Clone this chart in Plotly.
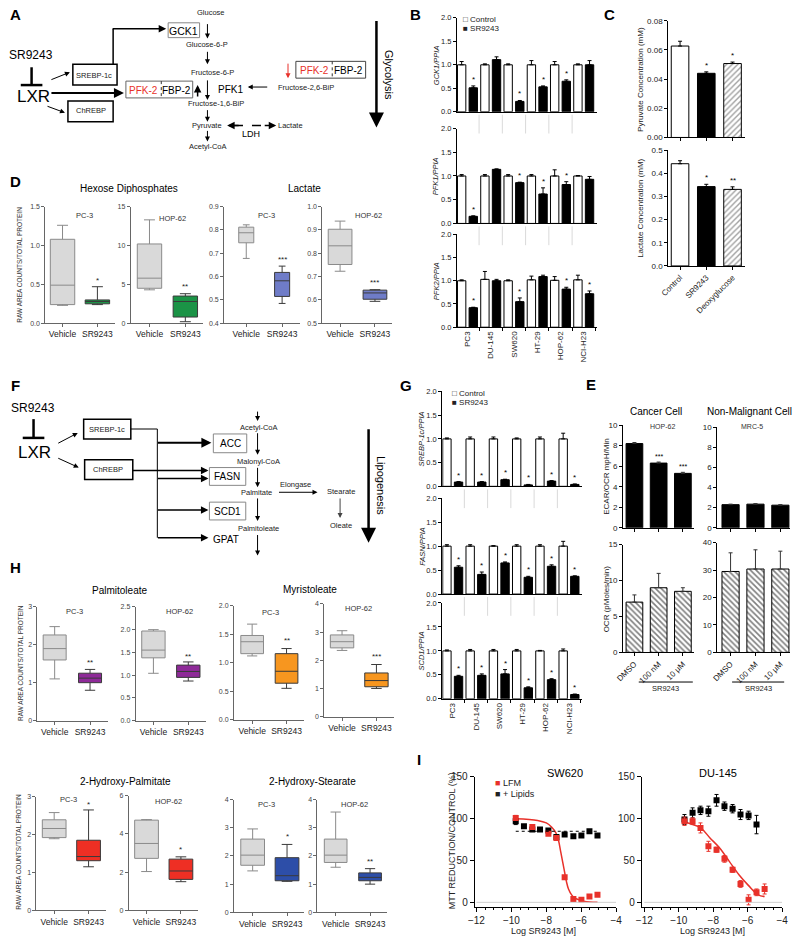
import plotly.graph_objects as go

W, H = 800, 944
FONT = "Liberation Sans, Arial, sans-serif"
RED = "#e8312a"

# ---------------- data ----------------
cell_lines = ["PC3", "DU-145", "SW620", "HT-29", "HOP-62", "NCI-H23"]

gck1_ctrl = [1.00, 1.00, 1.00, 1.00, 1.00, 1.00]
gck1_ctrl_err = [0.07, 0.02, 0.02, 0.09, 0.07, 0.02]
gck1_sr = [0.51, 1.11, 0.22, 0.53, 0.65, 1.00]
gck1_sr_err = [0.04, 0.06, 0.02, 0.02, 0.03, 0.09]
gck1_sig = ["*", "", "*", "*", "*", ""]

pfk1_ctrl = [1.00, 1.00, 1.00, 1.00, 1.00, 1.00]
pfk1_ctrl_err = [0.03, 0.03, 0.03, 0.03, 0.13, 0.01]
pfk1_sr = [0.15, 1.14, 0.86, 0.62, 0.82, 0.93]
pfk1_sr_err = [0.01, 0.01, 0.01, 0.13, 0.06, 0.06]
pfk1_sig = ["*", "", "*", "*", "*", ""]

pfk2_ctrl = [1.00, 1.03, 1.00, 1.02, 1.01, 1.02]
pfk2_ctrl_err = [0.02, 0.17, 0.02, 0.08, 0.08, 0.10]
pfk2_sr = [0.42, 1.00, 0.55, 1.09, 0.82, 0.72]
pfk2_sr_err = [0.01, 0.03, 0.08, 0.03, 0.04, 0.06]
pfk2_sig = ["*", "", "*", "", "*", "*"]

srebp_ctrl = [1.00, 1.00, 1.00, 1.00, 1.00, 1.00]
srebp_ctrl_err = [0.02, 0.04, 0.04, 0.02, 0.04, 0.12]
srebp_sr = [0.09, 0.09, 0.14, 0.03, 0.11, 0.04]
srebp_sr_err = [0.01, 0.01, 0.01, 0.01, 0.01, 0.01]
srebp_sig = ["*", "*", "*", "*", "*", "*"]

fasn_ctrl = [1.00, 1.00, 1.00, 1.00, 1.00, 1.00]
fasn_ctrl_err = [0.03, 0.03, 0.01, 0.03, 0.03, 0.10]
fasn_sr = [0.56, 0.41, 0.65, 0.35, 0.58, 0.37]
fasn_sr_err = [0.03, 0.05, 0.02, 0.02, 0.03, 0.01]
fasn_sig = ["*", "*", "*", "*", "*", "*"]

scd1_ctrl = [1.00, 1.00, 1.00, 1.00, 1.00, 1.00]
scd1_ctrl_err = [0.02, 0.03, 0.03, 0.03, 0.01, 0.04]
scd1_sr = [0.47, 0.49, 0.52, 0.23, 0.40, 0.09]
scd1_sr_err = [0.02, 0.03, 0.09, 0.02, 0.02, 0.01]
scd1_sig = ["*", "*", "*", "*", "*", "*"]

c_conditions = ["Control", "SR9243", "Deoxyglucose"]
pyruvate_mM = [0.0627, 0.0440, 0.0507]
pyruvate_err = [0.0033, 0.0010, 0.0010]
pyruvate_sig = ["", "*", "*"]
lactate_mM = [0.442, 0.343, 0.331]
lactate_err = [0.013, 0.010, 0.011]
lactate_sig = ["", "*", "**"]

e_treatments = ["DMSO", "100 nM", "10 μM"]
ecar_hop62 = [8.2, 6.3, 5.3]
ecar_hop62_err = [0.1, 0.1, 0.1]
ecar_hop62_sig = ["", "***", "***"]
ecar_mrc5 = [2.30, 2.35, 2.25]
ecar_mrc5_err = [0.05, 0.05, 0.05]
ocr_hop62 = [7.0, 9.0, 8.5]
ocr_hop62_err = [1.0, 2.0, 0.5]
ocr_mrc5 = [29.5, 30.4, 30.4]
ocr_mrc5_err = [6.8, 7.0, 6.5]

box_groups = ["Vehicle", "SR9243"]
# [lower whisker, q1, median, q3, upper whisker]
hexose_pc3_vehicle = [0.23, 0.24, 0.49, 1.08, 1.26]
hexose_pc3_sr9243 = [0.24, 0.25, 0.28, 0.30, 0.47]
hexose_hop62_vehicle = [4.3, 4.5, 5.8, 10.2, 13.3]
hexose_hop62_sr9243 = [0.2, 0.8, 2.8, 3.5, 3.8]
lactate_pc3_vehicle = [0.678, 0.745, 0.788, 0.812, 0.822]
lactate_pc3_sr9243 = [0.485, 0.515, 0.582, 0.618, 0.645]
lactate_hop62_vehicle = [0.723, 0.752, 0.832, 0.903, 0.938]
lactate_hop62_sr9243 = [0.594, 0.603, 0.630, 0.642, 0.644]

palmitoleate_pc3_vehicle = [1.10, 1.60, 1.90, 2.26, 2.48]
palmitoleate_pc3_sr9243 = [0.80, 1.00, 1.12, 1.25, 1.35]
palmitoleate_hop62_vehicle = [1.04, 1.38, 1.55, 1.97, 2.00]
palmitoleate_hop62_sr9243 = [0.87, 0.95, 1.08, 1.22, 1.29]
myristoleate_pc3_vehicle = [1.12, 1.16, 1.37, 1.48, 1.68]
myristoleate_pc3_sr9243 = [0.55, 0.64, 0.85, 1.16, 1.25]
myristoleate_hop62_vehicle = [2.35, 2.44, 2.66, 2.90, 3.05]
myristoleate_hop62_sr9243 = [1.00, 1.06, 1.28, 1.55, 1.85]
hpalm_pc3_vehicle = [1.89, 1.92, 2.16, 2.39, 2.58]
hpalm_pc3_sr9243 = [1.15, 1.31, 1.42, 1.85, 2.65]
hpalm_hop62_vehicle = [2.03, 2.72, 3.50, 4.72, 4.75]
hpalm_hop62_sr9243 = [1.50, 1.62, 2.06, 2.68, 2.80]
hstear_pc3_vehicle = [1.47, 1.67, 2.03, 2.60, 2.96]
hstear_pc3_sr9243 = [1.10, 1.12, 1.30, 1.94, 2.41]
hstear_hop62_vehicle = [1.60, 1.77, 2.03, 2.60, 3.56]
hstear_hop62_sr9243 = [1.00, 1.12, 1.24, 1.40, 1.55]

sw620_lfm_x = [-9.75, -8.80, -7.88, -7.42, -6.95, -6.45, -5.99, -5.53, -5.07]
sw620_lfm_y = [101, 90, 82, 77, 30, 4, 3, 7, 9]
sw620_lfm_err = [3, 2, 2, 2, 2, 1, 1, 1, 1]
sw620_lip_x = [-9.75, -9.28, -8.80, -8.36, -7.88, -7.42, -6.95, -6.45, -5.99, -5.53, -5.07]
sw620_lip_y = [97, 91, 87, 87, 86, 78, 81, 79, 80, 85, 80]
sw620_lip_err = [4, 2, 2, 2, 2, 2, 2, 2, 2, 2, 2]
sw620_fit_x = [-9.75, -8.5, -8.0, -7.7, -7.45, -7.3, -7.17, -7.05, -6.95, -6.85, -6.73, -6.55, -6.36, -6.1, -5.8, -5.07]
sw620_fit_y = [100, 98, 95, 90, 83, 74, 60, 47, 36, 25, 16, 9, 5, 3, 1, 0]
sw620_lip_plateau = 85

du145_x = [-9.67, -9.20, -8.74, -8.28, -7.81, -7.35, -6.88, -6.42, -5.95, -5.49, -5.02]
du145_lip_y = [99, 107, 110, 109, 122, 115, 112, 105, 104, 93]
du145_lip_err = [6, 6, 5, 6, 7, 5, 5, 6, 5, 11]
du145_lfm_y = [97, 97, 89, 67, 63, 52, 39, 22, 3, 12, 16]
du145_lfm_err = [5, 4, 6, 6, 3, 4, 3, 4, 6, 4, 6]
du145_fit_x = [-9.67, -8.74, -8.19, -7.63, -7.07, -6.51, -5.95, -5.40, -5.02]
du145_fit_y = [96, 89, 77, 65, 49, 33, 20, 9, 7]

# ---------------- helpers ----------------
fig = go.Figure()
_n = [0]


def new_axes(x0, x1, ytop, ybot, xa, ya):
    _n[0] += 1
    n = _n[0]
    sx = "" if n == 1 else str(n)
    xa = dict(xa)
    ya = dict(ya)
    xa.update(domain=[x0 / W, x1 / W], anchor="y" + sx)
    ya.update(domain=[1 - ybot / H, 1 - ytop / H], anchor="x" + sx)
    fig.update_layout({"xaxis" + sx: xa, "yaxis" + sx: ya})
    return "x" + sx, "y" + sx


def axstyle(color="black", size=7, **kw):
    d = dict(showline=True, linecolor=color, linewidth=1, ticks="outside", ticklen=3,
             tickwidth=1, tickcolor=color, showgrid=False, zeroline=False,
             tickfont=dict(size=size, color="#222", family=FONT), fixedrange=True)
    d.update(kw)
    return d


def txt(x, y, s, size=8, color="black", angle=0, xanchor="center", yanchor="middle"):
    fig.add_annotation(x=x / W, y=1 - y / H, xref="paper", yref="paper", text=s,
                       showarrow=False, textangle=angle, xanchor=xanchor, yanchor=yanchor,
                       font=dict(size=size, color=color, family=FONT))


def arrow(x0, y0, x1, y1, width=1, color="black", head=2, size=1.0):
    fig.add_annotation(x=x1 / W, y=1 - y1 / H, xref="paper", yref="paper",
                       ax=x0 - x1, ay=y0 - y1, axref="pixel", ayref="pixel", text="",
                       showarrow=True, arrowhead=head, arrowsize=size, arrowwidth=width,
                       arrowcolor=color, standoff=0, startstandoff=0)


def line(x0, y0, x1, y1, width=1, color="black", dash=None):
    fig.add_shape(type="line", xref="paper", yref="paper", x0=x0 / W, y0=1 - y0 / H,
                  x1=x1 / W, y1=1 - y1 / H, line=dict(color=color, width=width, dash=dash))


def rect(x0, y0, x1, y1, color="black", width=1):
    fig.add_shape(type="rect", xref="paper", yref="paper", x0=x0 / W, y0=1 - y1 / H,
                  x1=x1 / W, y1=1 - y0 / H, line=dict(color=color, width=width),
                  fillcolor="rgba(0,0,0,0)")


def letter(x, y, s):
    txt(x, y, "<b>" + s + "</b>", size=15)


def errbar(err, color="black"):
    return dict(type="data", array=err, arrayminus=[0] * len(err), symmetric=False,
                color=color, thickness=1, width=2)


# ---------------- Panel A (diagram) ----------------
letter(8, 9, "A")
mt = 7.5
txt(207, 7, "Glucose", mt, "#222")
rect(163, 17, 195, 32, "#888", 1)
txt(179, 25, "GCK1", 10.5)
arrow(203, 17, 203, 33)
txt(203, 39, "Glucose-6-P", mt, "#222")
arrow(203, 45, 203, 59)
txt(208, 67, "Fructose-6-P", mt, "#222")
arrow(203, 74, 203, 95)
arrow(193, 93, 193, 80, width=1.5)
txt(226, 84, "PFK1", 10)
txt(303, 82, "Fructose-2,6-BiP", mt, "#222")
arrow(265, 82, 244, 82)
rect(120, 76, 188, 93, "#666", 1)
line(156, 76, 156, 93, 1, "#333", "dot")
txt(138, 85, "PFK-2", 10, RED)
txt(172, 85, "FBP-2", 10)
rect(293, 56, 364, 73, "#444", 1)
line(330, 56, 330, 73, 1, "#333", "dot")
txt(312, 65, "PFK-2", 10, RED)
txt(347, 65, "FBP-2", 10)
arrow(285, 57, 285, 73, color=RED)
txt(212, 99, "Fructose-1,6-BiP", mt, "#222")
arrow(203, 104, 203, 117)
txt(203, 121, "Pyruvate", mt, "#222")
txt(288, 121, "Lactate", mt, "#222")
line(230, 121, 266, 121, 1.5, "black", "dash")
arrow(236, 121, 223, 121, width=1.5)
arrow(260, 121, 273, 121, width=1.5)
txt(247, 130, "LDH", 9)
arrow(203, 125, 203, 137)
txt(204, 142, "Acetyl-CoA", mt, "#222")
txt(23, 50, "SR9243", 12)
line(24, 62, 24, 80, 2.5)
line(13, 80, 35, 80, 2.5)
txt(26, 92, "LXR", 17)
rect(66, 59, 111, 80, "black", 1.5)
txt(88, 70, "SREBP-1c", 7.5, "#222")
rect(61, 96, 107, 117, "black", 1.5)
txt(84, 106, "ChREBP", 7.5, "#222")
arrow(43, 75, 63, 67)
arrow(39, 101, 58, 108)
arrow(44, 88, 118, 88, width=2)
line(107, 59, 107, 23, 1.5)
arrow(106, 23, 161, 23, width=1.5)
arrow(375, 15, 375, 123, width=2.5, size=1.2)
txt(388, 70, "Glycolysis", 11, angle=90)

# ---------------- Panel F (diagram) ----------------
letter(8, 384, "F")
txt(25, 407, "SR9243", 12)
line(26, 418, 26, 437, 2.5)
line(15, 437, 37, 437, 2.5)
txt(27, 452, "LXR", 17)
rect(77, 418, 125, 438, "black", 1.5)
txt(101, 428, "SREBP-1c", 7.5, "#222")
rect(78, 459, 127, 479, "black", 1.5)
txt(102, 469, "ChREBP", 7.5, "#222")
arrow(50, 443, 71, 432)
arrow(50, 457, 72, 467)
line(125, 428, 152, 428, 1)
line(152, 428, 152, 538, 1)
arrow(152, 442, 207, 442, width=2)
arrow(127, 470, 204, 470, width=1.5)
arrow(152, 478, 204, 478, width=1.5)
arrow(152, 510, 204, 510, width=1.5)
arrow(152, 538, 204, 538, width=1.5)
rect(209, 433, 243, 452, "#888", 1)
txt(226, 443, "ACC", 10)
rect(205, 467, 242, 485, "#888", 1)
txt(223, 476, "FASN", 10)
rect(205, 502, 242, 520, "#888", 1)
txt(223, 511, "SCD1", 10)
txt(222, 540, "GPAT", 10, xanchor="center")
arrow(254, 409, 254, 420)
txt(255, 426, "Acetyl-CoA", mt, "#222")
arrow(254, 431, 254, 454)
txt(255, 461, "Malonyl-CoA", mt, "#222")
arrow(254, 466, 254, 487)
txt(253, 492, "Palmitate", mt, "#222")
arrow(254, 497, 254, 521)
txt(255, 529, "Palmitoleate", mt, "#222")
arrow(254, 534, 254, 556)
txt(293, 484, "Elongase", mt, "#222")
arrow(275, 492, 315, 492)
txt(339, 491, "Stearate", mt, "#222")
arrow(338, 497, 338, 518, color="#444")
txt(339, 526, "Oleate", mt, "#222")
arrow(367, 428, 367, 543, width=2.5, size=1.2)
txt(379, 485, "Lipogenesis", 11, angle=90)


# ---------------- Panels B and G (grouped bars) ----------------
def bgroup(x0, x1, ytop, ybot, ctrl, ctrl_err, sr, sr_err, sig, ylab, ylab_x, bottom):
    ctrl_pos = [2 * i for i in range(len(ctrl))]
    sr_pos = [2 * i + 1 for i in range(len(sr))]
    if bottom:
        xa = axstyle(size=8, range=[-0.4, 11.6], tickmode="array",
                     tickvals=[2 * i + 0.5 for i in range(len(cell_lines))],
                     ticktext=cell_lines, tickangle=-90, ticks="",
                     minor=dict(ticks="outside", tickmode="linear", tick0=1.5, dtick=2,
                                ticklen=3, tickcolor="black"))
    else:
        xa = axstyle(range=[-0.4, 11.6], showticklabels=False, ticks="")
    ya = axstyle(size=7.5, range=[0, 2.0], tickmode="linear", tick0=0, dtick=0.5, tickformat=".1f")
    xr, yr = new_axes(x0, x1, ytop, ybot, xa, ya)
    fig.add_trace(go.Bar(x=ctrl_pos, y=ctrl, width=0.72, xaxis=xr, yaxis=yr,
                         marker=dict(color="white", line=dict(color="black", width=1)),
                         error_y=errbar(ctrl_err)))
    fig.add_trace(go.Bar(x=sr_pos, y=sr, width=0.72, xaxis=xr, yaxis=yr,
                         marker=dict(color="black", line=dict(color="black", width=1)),
                         error_y=errbar(sr_err)))
    for i, s in enumerate(sig):
        if s:
            fig.add_annotation(x=sr_pos[i], y=sr[i] + sr_err[i], xref=xr, yref=yr, text=s,
                               showarrow=False, yanchor="bottom", yshift=0,
                               font=dict(size=8, family=FONT))
    txt(ylab_x, (ytop + ybot) / 2, "<i>" + ylab + "</i>", 7.5, "#222", angle=-90)
    if not bottom:
        for b in [1.5, 3.5, 5.5, 7.5, 9.5]:
            fig.add_shape(type="line", xref=xr, yref="paper", x0=b, x1=b,
                          y0=1 - (ybot + 3) / H, y1=1 - (ybot + 22) / H,
                          line=dict(color="#cfcfcf", width=0.8))
    return xr, yr


letter(415, 9, "B")
txt(461, 14, "□ Control", 8, "#222", xanchor="left")
txt(461, 23, "■ SR9243", 8, "#222", xanchor="left")
bgroup(457, 599, 12, 107, gck1_ctrl, gck1_ctrl_err, gck1_sr, gck1_sr_err, gck1_sig, "GCK1/PPIA", 436, False)
bgroup(457, 599, 124, 220, pfk1_ctrl, pfk1_ctrl_err, pfk1_sr, pfk1_sr_err, pfk1_sig, "PFK1/PPIA", 436, False)
bgroup(457, 599, 231, 325, pfk2_ctrl, pfk2_ctrl_err, pfk2_sr, pfk2_sr_err, pfk2_sig, "PFK2/PPIA", 436, True)

letter(405, 384, "G")
txt(450, 392, "□ Control", 8, "#222", xanchor="left")
txt(450, 401, "■ SR9243", 8, "#222", xanchor="left")
bgroup(442, 584, 390, 486, srebp_ctrl, srebp_ctrl_err, srebp_sr, srebp_sr_err, srebp_sig, "SREBP-1c/PPIA", 421, False)
bgroup(442, 584, 498, 595, fasn_ctrl, fasn_ctrl_err, fasn_sr, fasn_sr_err, fasn_sig, "FASN/PPIA", 421, False)
bgroup(442, 584, 604, 701, scd1_ctrl, scd1_ctrl_err, scd1_sr, scd1_sr_err, scd1_sig, "SCD1/PPIA", 421, True)


# ---------------- Panel C ----------------
def cpanel(ytop, ybot, vals, err, sig, yrange, dtick, tfmt, ylab, bottom):
    if bottom:
        xa = axstyle(size=8, range=[-0.45, 2.47], tickvals=[0, 1, 2], ticktext=c_conditions,
                     tickangle=-45)
    else:
        xa = axstyle(range=[-0.45, 2.47], tickvals=[0, 1, 2], showticklabels=False)
    ya = axstyle(size=8, range=yrange, tickmode="linear", tick0=0, dtick=dtick, tickformat=tfmt)
    xr, yr = new_axes(672, 750, ytop, ybot, xa, ya)
    fig.add_trace(go.Bar(x=[0, 1, 2], y=vals, width=0.67, xaxis=xr, yaxis=yr,
                         marker=dict(color=["white", "black", "white"],
                                     line=dict(color="black", width=1),
                                     pattern=dict(shape=["", "", "/"], fgcolor="black",
                                                  bgcolor="white", size=4, solidity=0.35)),
                         error_y=errbar(err)))
    for i, s in enumerate(sig):
        if s:
            fig.add_annotation(x=i, y=vals[i] + err[i], xref=xr, yref=yr, text=s,
                               showarrow=False, yanchor="bottom", font=dict(size=8, family=FONT))
    txt(643, (ytop + ybot) / 2, ylab, 8, "#222", angle=-90)


letter(612, 9, "C")
cpanel(15, 133, pyruvate_mM, pyruvate_err, pyruvate_sig, [0, 0.08], 0.02, ".2f",
       "Pyruvate Concentration (mM)", False)
cpanel(146, 263, lactate_mM, lactate_err, lactate_sig, [0, 0.5], 0.1, ".1f",
       "Lactate Concentration (mM)", True)


# ---------------- Panel E ----------------
def epanel(x0, x1, left, ytop, ybot, vals, err, sig, yrange, dtick, hatched, bottom):
    if bottom:
        xa = axstyle(size=8, range=[left, left + 2.92], tickvals=[0, 1, 2], ticktext=e_treatments,
                     tickangle=-45)
    else:
        xa = axstyle(range=[left, left + 2.92], tickvals=[0, 1, 2], showticklabels=False)
    ya = axstyle(size=8, range=yrange, tickmode="linear", tick0=0, dtick=dtick)
    xr, yr = new_axes(x0, x1, ytop, ybot, xa, ya)
    if hatched:
        mk = dict(color="white", line=dict(color="black", width=1),
                  pattern=dict(shape="\\", fgcolor="black", bgcolor="white", size=4, solidity=0.4))
    else:
        mk = dict(color="black", line=dict(color="black", width=1))
    fig.add_trace(go.Bar(x=[0, 1, 2], y=vals, width=0.69, xaxis=xr, yaxis=yr, marker=mk,
                         error_y=errbar(err, "#333")))
    for i, s in enumerate(sig):
        if s:
            fig.add_annotation(x=i, y=vals[i] + err[i], xref=xr, yref=yr, text=s,
                               showarrow=False, yanchor="bottom", font=dict(size=7, family=FONT))


letter(593, 383, "E")
txt(660, 410, "Cancer Cell", 10)
txt(755, 410, "Non-Malignant Cell", 10)
txt(666, 425, "HOP-62", 7, "#333")
txt(757, 425, "MRC-5", 7, "#333")
epanel(626, 698, -0.47, 424, 528, ecar_hop62, ecar_hop62_err, ecar_hop62_sig, [0, 10], 2, False, False)
epanel(722, 796, -0.53, 426, 528, ecar_mrc5, ecar_mrc5_err, ["", "", ""], [0, 10], 2, False, False)
epanel(626, 698, -0.47, 545, 654, ocr_hop62, ocr_hop62_err, ["", "", ""], [0, 15], 5, True, True)
epanel(722, 796, -0.53, 543, 654, ocr_mrc5, ocr_mrc5_err, ["", "", ""], [0, 40], 10, True, True)
txt(609, 476, "ECAR/OCR mpH/Min", 8, "#222", angle=-90)
txt(609, 600, "OCR (pMoles/min)", 8, "#222", angle=-90)
line(642, 684, 697, 684, 1)
txt(669, 691, "SR9243", 7.5, "#222")
line(737, 684, 790, 684, 1)
txt(764, 691, "SR9243", 7.5, "#222")


# ---------------- Box-plot panels D and H ----------------
def bpanel(ax_px, c0, c1, ytop, ybot, yrange, tickvals, ticktext, veh, sr, color, sig, sig_y,
           subtitle, sub_xy, boxw):
    s = c1 - c0
    left = -(c0 - ax_px) / s
    x1 = c1 + 0.5 * s
    xa = axstyle("#666", 8.5, type="category", categoryorder="array", categoryarray=box_groups,
                 range=[left, 1.5])
    ya = axstyle("#666", 7, range=yrange, tickvals=tickvals, ticktext=ticktext)
    ya["tickfont"] = dict(size=7, color="#444", family=FONT)
    xr, yr = new_axes(ax_px, x1, ytop, ybot, xa, ya)
    for grp, st, fc, lc in [(box_groups[0], veh, "#d9d9d9", "#8a8a8a"),
                            (box_groups[1], sr, color, "#3a3a3a")]:
        fig.add_trace(go.Box(x=[grp], lowerfence=[st[0]], q1=[st[1]], median=[st[2]],
                             q3=[st[3]], upperfence=[st[4]], width=boxw, whiskerwidth=0.45,
                             fillcolor=fc, line=dict(color=lc, width=1), boxpoints=False,
                             xaxis=xr, yaxis=yr))
    fig.add_annotation(x=box_groups[1], y=sig_y, xref=xr, yref=yr, text=sig, showarrow=False,
                       font=dict(size=8, family=FONT, color="#222"))
    txt(sub_xy[0], sub_xy[1], subtitle, 7.5, "#333")


GREEN = "#1b9346"
PERI = "#6f7cc8"
PURPLE = "#8e2a98"
ORANGE = "#f7961f"
RED2 = "#ee2f24"
BLUE = "#2d4ea8"

letter(8, 178, "D")
txt(123, 185, "Hexose Diphosphates", 10)
txt(302, 185, "Lactate", 10)
txt(12, 262, "RAW AREA COUNTS/TOTAL PROTEIN", 6.5, "#333", angle=-90)
bpanel(38, 55.5, 91, 203, 321, [0, 1.5], [0, 0.5, 1.0, 1.5], ["0.0", "0.5", "1.0", "1.5"],
       hexose_pc3_vehicle, hexose_pc3_sr9243, GREEN, "*", 0.55, "PC-3", (78, 212), 0.7)
bpanel(125, 144, 180.5, 203, 321, [0, 15], [0, 5, 10, 15], ["0", "5", "10", "15"],
       hexose_hop62_vehicle, hexose_hop62_sr9243, GREEN, "**", 4.7, "HOP-62", (167, 215), 0.68)
bpanel(220, 242.5, 279, 203, 321, [0.4, 0.9], [0.4, 0.5, 0.6, 0.7, 0.8, 0.9],
       ["0.4", "0.5", "0.6", "0.7", "0.8", "0.9"],
       lactate_pc3_vehicle, lactate_pc3_sr9243, PERI, "***", 0.675, "PC-3", (263, 212), 0.42)
bpanel(320, 338, 373.5, 203, 321, [0.5, 1.0], [0.5, 0.6, 0.7, 0.8, 0.9, 1.0],
       ["0.5", "0.6", "0.7", "0.8", "0.9", "1.0"],
       lactate_hop62_vehicle, lactate_hop62_sr9243, PERI, "***", 0.675, "HOP-62", (367, 212), 0.68)

letter(8, 568, "H")
txt(113, 591, "Palmitoleate", 10)
txt(307, 590, "Myristoleate", 10)
txt(12, 665, "RAW AREA COUNTS/TOTAL PROTEIN", 6.5, "#333", angle=-90)
bpanel(30, 47.5, 83.5, 608, 723, [0, 3], [0, 1, 2, 3], ["0", "1", "2", "3"],
       palmitoleate_pc3_vehicle, palmitoleate_pc3_sr9243, PURPLE, "**", 1.52, "PC-3", (68, 613), 0.65)
bpanel(130, 148, 183.5, 608, 723, [0, 2.5], [0, 0.5, 1.0, 1.5, 2.0, 2.5],
       ["0.0", "0.5", "1.0", "1.5", "2.0", "2.5"],
       palmitoleate_hop62_vehicle, palmitoleate_hop62_sr9243, PURPLE, "**", 1.40, "HOP-62", (175, 613), 0.67)
bpanel(230, 248.5, 283.5, 607, 722, [0, 2.0], [0, 0.5, 1.0, 1.5, 2.0],
       ["0.0", "0.5", "1.0", "1.5", "2.0"],
       myristoleate_pc3_vehicle, myristoleate_pc3_sr9243, ORANGE, "**", 1.40, "PC-3", (267, 614), 0.66)
bpanel(322, 340, 375, 605, 719, [0, 4], [0, 1, 2, 3, 4], ["0", "1", "2", "3", "4"],
       myristoleate_hop62_vehicle, myristoleate_hop62_sr9243, ORANGE, "***", 2.15, "HOP-62", (357, 610), 0.68)

txt(120, 785, "2-Hydroxy-Palmitate", 10)
txt(310, 785, "2-Hydroxy-Stearate", 10)
txt(10, 856, "RAW AREA COUNTS/TOTAL PROTEIN", 6.5, "#333", angle=-90)
bpanel(29, 47, 82, 800, 915, [0, 3], [0, 1, 2, 3], ["0", "1", "2", "3"],
       hpalm_pc3_vehicle, hpalm_pc3_sr9243, RED2, "*", 2.80, "PC-3", (62, 803), 0.69)
bpanel(123, 141, 176, 799, 915, [0, 6], [0, 2, 4, 6], ["0", "2", "4", "6"],
       hpalm_hop62_vehicle, hpalm_hop62_sr9243, RED2, "*", 3.20, "HOP-62", (163, 805), 0.69)
bpanel(230, 249, 284, 803, 917, [0, 4], [0, 1, 2, 3, 4], ["0", "1", "2", "3", "4"],
       hstear_pc3_vehicle, hstear_pc3_sr9243, BLUE, "*", 2.70, "PC-3", (263, 808), 0.69)
bpanel(315, 333.5, 368.5, 803, 917, [0, 4], [0, 1, 2, 3, 4], ["0", "1", "2", "3", "4"],
       hstear_hop62_vehicle, hstear_hop62_sr9243, BLUE, "**", 1.80, "HOP-62", (353, 808), 0.66)


# ---------------- Panel I (dose response) ----------------
def ipanel(x0, x1, xleft, lip_x, lip_y, lip_err, lfm_x, lfm_y, lfm_err, fit_x, fit_y):
    xa = axstyle(size=10, range=[xleft, -4], tickvals=[-12, -10, -8, -6, -4], ticklen=4,
                 minor=dict(ticks="outside", tickmode="linear", tick0=-12, dtick=0.5,
                            ticklen=2, tickcolor="black"))
    ya = axstyle(size=10, range=[-6, 150], tickvals=[0, 50, 100, 150], ticklen=4)
    xr, yr = new_axes(x0, x1, 780, 912, xa, ya)
    fig.add_shape(type="line", xref=xr, yref=yr, x0=-12, x1=-4, y0=0, y1=0,
                  line=dict(color="#d0d0d0", width=1))
    fig.add_trace(go.Scatter(x=fit_x, y=fit_y, mode="lines", xaxis=xr, yaxis=yr,
                             line=dict(color=RED, width=1.5, shape="spline")))
    fig.add_trace(go.Scatter(x=lip_x, y=lip_y, mode="markers", xaxis=xr, yaxis=yr,
                             marker=dict(symbol="square", size=6, color="black"),
                             error_y=dict(type="data", array=lip_err, color="black",
                                          thickness=1, width=2)))
    fig.add_trace(go.Scatter(x=lfm_x, y=lfm_y, mode="markers", xaxis=xr, yaxis=yr,
                             marker=dict(symbol="square", size=6, color=RED),
                             error_y=dict(type="data", array=lfm_err, color=RED,
                                          thickness=1, width=2)))
    return xr, yr


letter(418, 762, "I")
xr, yr = ipanel(475, 619, -12.1, sw620_lip_x, sw620_lip_y, sw620_lip_err,
                sw620_lfm_x, sw620_lfm_y, sw620_lfm_err, sw620_fit_x, sw620_fit_y)
fig.add_trace(go.Scatter(x=[sw620_lip_x[0], sw620_lip_x[-1]],
                         y=[sw620_lip_plateau, sw620_lip_plateau], mode="lines",
                         xaxis=xr, yaxis=yr, line=dict(color="black", width=1, dash="dot")))
ipanel(645, 788, -12.15, du145_x[:len(du145_lip_y)], du145_lip_y, du145_lip_err,
       du145_x, du145_lfm_y, du145_lfm_err, du145_fit_x, du145_fit_y)
txt(567, 776, "SW620", 11)
txt(723, 776, "DU-145", 11)
txt(494, 786, "<span style='color:%s'>■</span> LFM" % RED, 9, "#222", xanchor="left")
txt(494, 797, "■ + Lipids", 9, "#222", xanchor="left")
txt(452, 845, "MTT REDUCTION/CONTROL (%)", 9, "#222", angle=-90)
txt(545, 936, "Log SR9243 [M]", 9, "#222")
txt(717, 936, "Log SR9243 [M]", 9, "#222")

fig.update_layout(width=W, height=H, margin=dict(l=0, r=0, t=0, b=0), showlegend=False,
                  paper_bgcolor="white", plot_bgcolor="white", barmode="overlay",
                  boxmode="overlay", font=dict(family=FONT, color="black"))
fig.write_html("out.html", config={"displayModeBar": False},
               post_script="document.body.style.margin='0px';document.body.style.overflow='hidden';")
